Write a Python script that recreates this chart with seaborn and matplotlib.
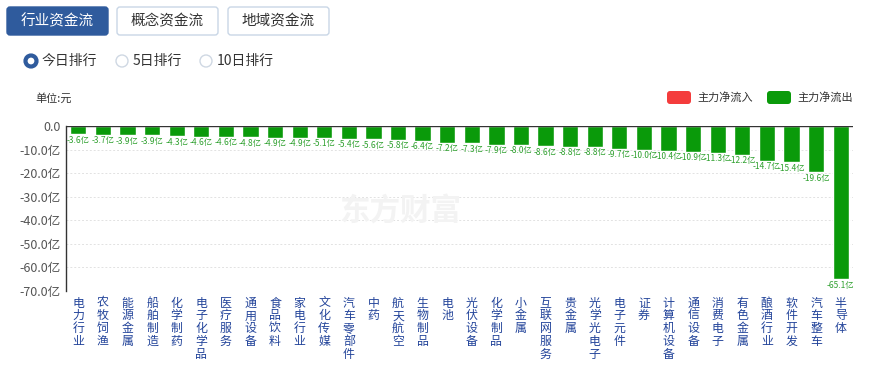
import matplotlib
matplotlib.use("Agg")
import matplotlib.pyplot as plt
from matplotlib.patches import FancyBboxPatch, Circle
import seaborn as sns
import pandas as pd

sns.set_style("white")
plt.rcParams["font.family"] = ["Noto Sans CJK SC", "DejaVu Sans"]

# data
industries = ["电力行业", "农牧饲渔", "能源金属", "船舶制造", "化学制药", "电子化学品",
              "医疗服务", "通用设备", "食品饮料", "家电行业", "文化传媒", "汽车零部件",
              "中药", "航天航空", "生物制品", "电池", "光伏设备", "化学制品", "小金属",
              "互联网服务", "贵金属", "光学光电子", "电子元件", "证券", "计算机设备",
              "通信设备", "消费电子", "有色金属", "酿酒行业", "软件开发", "汽车整车", "半导体"]
net_flow = [-3.6, -3.7, -3.9, -3.9, -4.3, -4.6, -4.6, -4.8, -4.9, -4.9, -5.1, -5.4,
            -5.6, -5.8, -6.4, -7.2, -7.3, -7.9, -8.0, -8.6, -8.8, -8.8, -9.7, -10.0,
            -10.4, -10.9, -11.3, -12.2, -14.7, -15.4, -19.6, -65.1]
y_ticks = [0, -10, -20, -30, -40, -50, -60, -70]
tabs = ["行业资金流", "概念资金流", "地域资金流"]
radios = ["今日排行", "5日排行", "10日排行"]
legend_names = ["主力净流入", "主力净流出"]

df = pd.DataFrame({"industry": industries, "flow": net_flow})

GREEN = "#0a9a0a"
RED = "#f43c3c"
BLUE = "#2f5b9d"

W, H = 878, 369
fig = plt.figure(figsize=(W / 100, H / 100), dpi=100)
ax = fig.add_axes([66 / W, 1 - 291 / H, 787 / W, 165 / H])

sns.barplot(data=df, x="industry", y="flow", color=GREEN, saturation=1,
            width=0.66, ax=ax)
ax.bar_label(ax.containers[0], labels=[f"{v:.1f}亿" for v in net_flow],
             padding=1, color="#2ea02e", fontsize=6)

ax.set_ylim(-70, 0)
ax.set_yticks(y_ticks)
ax.set_yticklabels(["0.0"] + [f"{v:.1f}亿" for v in y_ticks[1:]],
                   color="#555555", fontsize=9)
ax.set_xticks(range(len(industries)))
ax.set_xticklabels(["\n".join(n) for n in industries], color="#23449a",
                   fontsize=8.6, linespacing=0.98, va="top")
ax.set_xlabel("")
ax.set_ylabel("")
ax.tick_params(axis="x", length=0, pad=4)
ax.tick_params(axis="y", length=0, pad=4)
ax.grid(axis="y", color="#e2e2e2", linestyle=(0, (2, 2)), linewidth=0.7)
ax.set_axisbelow(True)
for s in ["top", "right", "bottom"]:
    ax.spines[s].set_visible(False)
ax.spines["left"].set_color("#333333")
ax.spines["left"].set_linewidth(1)
ax.axhline(0, color="#333333", linewidth=1, zorder=3)
ax.set_xlim(-0.5, len(industries) - 0.5)

# overlay in pixel coords for the page widgets
ov = fig.add_axes([0, 0, 1, 1])
ov.set_xlim(0, W)
ov.set_ylim(H, 0)
ov.axis("off")

tab_x = [7, 117, 228]
for i, (t, x0) in enumerate(zip(tabs, tab_x)):
    active = i == 0
    ov.add_patch(FancyBboxPatch((x0, 7), 101, 28,
                                boxstyle="round,pad=0,rounding_size=3",
                                facecolor=BLUE if active else "white",
                                edgecolor=BLUE if active else "#c9d6e6",
                                linewidth=1))
    ov.text(x0 + 50.5, 21.5, t, ha="center", va="center", fontsize=10.5,
            color="white" if active else "#333333")

radio_x = [31, 122, 206]
for i, (r, cx) in enumerate(zip(radios, radio_x)):
    if i == 0:
        ov.add_patch(Circle((cx, 61), 5.5, facecolor="white", edgecolor=BLUE,
                            linewidth=3))
    else:
        ov.add_patch(Circle((cx, 61), 6, facecolor="white", edgecolor="#cfd8e3",
                            linewidth=1))
    ov.text(cx + 11, 61, r, ha="left", va="center", fontsize=10, color="#333333")

ov.text(35, 98, "单位:元", ha="left", va="center", fontsize=8, color="#333333")

for name, x0, c in zip(legend_names, [667, 767], [RED, GREEN]):
    ov.add_patch(FancyBboxPatch((x0, 91), 24, 13,
                                boxstyle="round,pad=0,rounding_size=3",
                                facecolor=c, edgecolor="none"))
    ov.text(x0 + 30, 97.5, name, ha="left", va="center", fontsize=8,
            color="#333333")

# faint watermark
ov.text(400, 211, "东方财富", ha="center", va="center", fontsize=22,
        fontweight="bold", color="#f3f3f3", zorder=0)

fig.savefig("out.png", dpi=100)
